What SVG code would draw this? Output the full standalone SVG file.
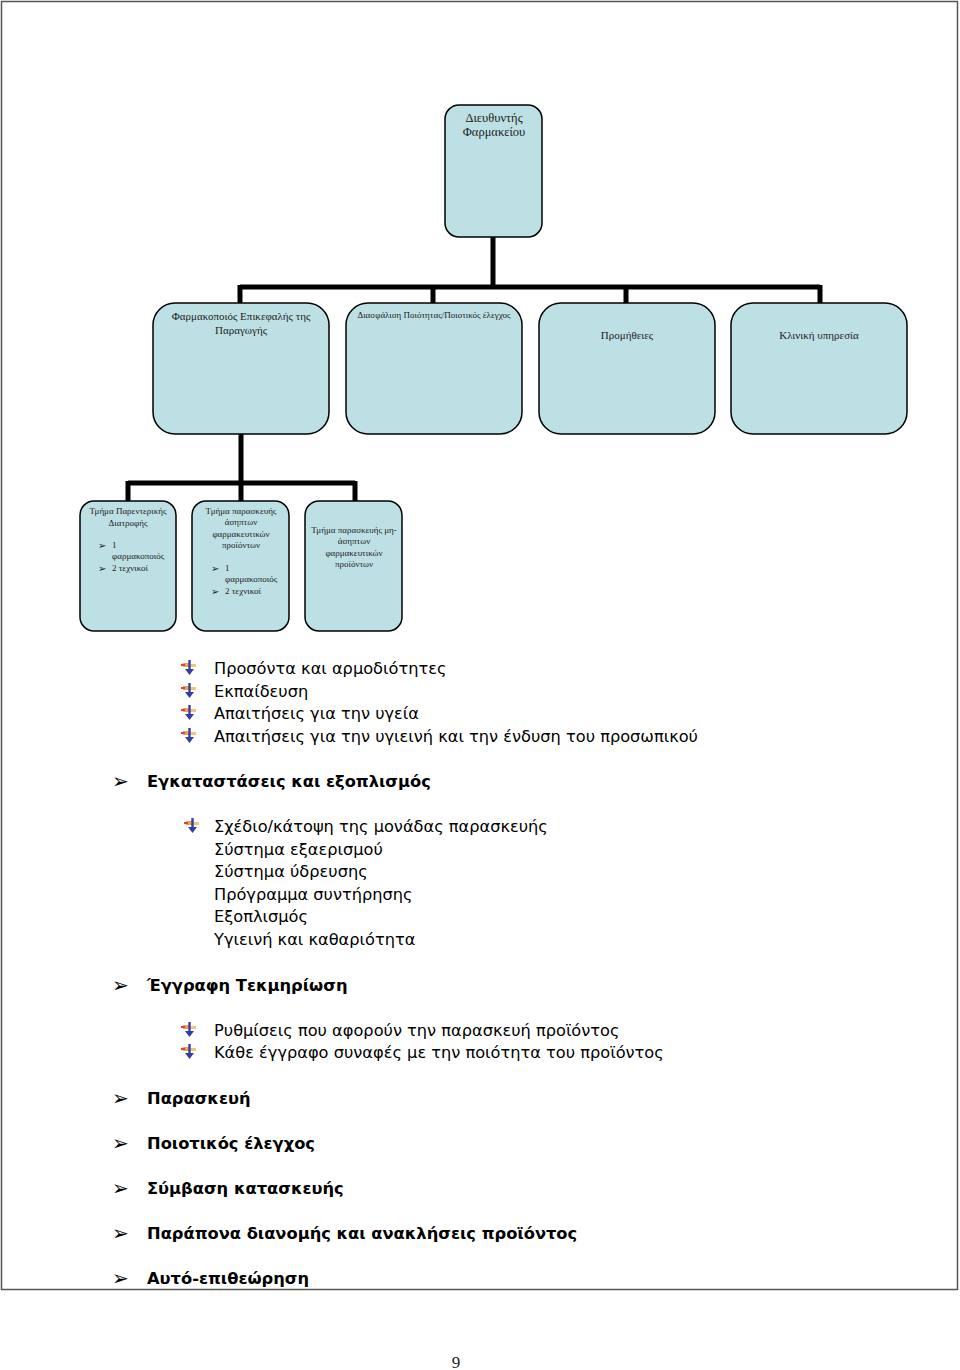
<svg xmlns="http://www.w3.org/2000/svg" width="960" height="1370" viewBox="0 0 960 1370">
<defs>
<style>
.box{fill:#bde0e4;stroke:#000;stroke-width:1.5}
.sf{font-family:"Liberation Serif","DejaVu Serif",serif;fill:#222}
.t12{font-size:12.5px}
.t10{font-size:11px}
.t9{font-size:9px}
.t8{font-size:9px}
.ls{font-family:"DejaVu Sans","Liberation Sans",sans-serif;font-size:16.2px;fill:#000}
.lb{font-family:"DejaVu Sans","Liberation Sans",sans-serif;font-size:16.3px;font-weight:bold;fill:#000}
.arr{font-family:"DejaVu Sans",sans-serif;font-size:20px;fill:#000}
.arrs{font-family:"DejaVu Sans",sans-serif;font-size:10px;fill:#222}
.conn{stroke:#000;stroke-width:5;fill:none}
</style>
<g id="bul">
<rect x="0" y="3" width="6" height="4" fill="#f0a050"/>
<rect x="-2" y="4" width="4" height="2" fill="#e04040"/>
<rect x="7" y="4" width="6" height="3" fill="#f8c080"/>
<rect x="5.3" y="0" width="2.4" height="12" fill="#3040a0"/>
<path d="M2 9 L6.5 15 L11 9 Z" fill="#3040a0"/>
</g>
</defs>
<rect x="0" y="0" width="960" height="1370" fill="#fff"/>
<rect x="1.5" y="1.5" width="956" height="1288" fill="none" stroke="#555" stroke-width="1.5"/>

<g id="connectors">
<path class="conn" d="M493 237 V287 M240 287 H820 M240 285 V303 M433 285 V303 M626 285 V303 M820 285 V303"/>
<path class="conn" d="M241 434 V483 M128 483 H355 M128 481 V501 M241 481 V501 M355 481 V501"/>
</g>

<g id="n-director">
<rect class="box" x="445" y="105" width="97" height="132" rx="14"/>
<text class="sf t12" x="494" y="122" text-anchor="middle">Διευθυντής</text>
<text class="sf t12" x="494" y="136" text-anchor="middle">Φαρμακείου</text>
</g>

<g id="n-head">
<rect class="box" x="153" y="303" width="176" height="131" rx="22"/>
<text class="sf t10" x="241" y="320" text-anchor="middle">Φαρμακοποιός Επικεφαλής της</text>
<text class="sf t10" x="241" y="334" text-anchor="middle">Παραγωγής</text>
</g>
<g id="n-qa">
<rect class="box" x="346" y="303" width="176" height="131" rx="22"/>
<text class="sf t8" x="434" y="318" text-anchor="middle">Διασφάλιση Ποιότητας/Ποιοτικός έλεγχος</text>
</g>
<g id="n-supply">
<rect class="box" x="539" y="303" width="176" height="131" rx="22"/>
<text class="sf t10" x="627" y="339" text-anchor="middle">Προμήθειες</text>
</g>
<g id="n-clinical">
<rect class="box" x="731" y="303" width="176" height="131" rx="22"/>
<text class="sf t10" x="819" y="339" text-anchor="middle">Κλινική υπηρεσία</text>
</g>

<g id="n-parenteral">
<rect class="box" x="80" y="501" width="96" height="130" rx="14"/>
<text class="sf t9" x="128" y="514" text-anchor="middle">Τμήμα Παρεντερικής</text>
<text class="sf t9" x="128" y="526" text-anchor="middle">Διατροφής</text>
<text class="arrs" x="98" y="549">➢</text>
<text class="sf t9" x="112" y="548">1</text>
<text class="sf t9" x="112" y="559">φαρμακοποιός</text>
<text class="arrs" x="98" y="572">➢</text>
<text class="sf t9" x="112" y="571">2 τεχνικοί</text>
</g>
<g id="n-aseptic">
<rect class="box" x="192" y="501" width="97" height="130" rx="14"/>
<text class="sf t9" x="241" y="514" text-anchor="middle">Τμήμα παρασκευής</text>
<text class="sf t9" x="241" y="525" text-anchor="middle">άσηπτων</text>
<text class="sf t9" x="241" y="537" text-anchor="middle">φαρμακευτικών</text>
<text class="sf t9" x="241" y="548" text-anchor="middle">προϊόντων</text>
<text class="arrs" x="211" y="572">➢</text>
<text class="sf t9" x="225" y="571">1</text>
<text class="sf t9" x="225" y="582">φαρμακοποιός</text>
<text class="arrs" x="211" y="595">➢</text>
<text class="sf t9" x="225" y="594">2 τεχνικοί</text>
</g>
<g id="n-nonaseptic">
<rect class="box" x="305" y="501" width="97" height="130" rx="14"/>
<text class="sf t9" x="354" y="533" text-anchor="middle">Τμήμα παρασκευής μη-</text>
<text class="sf t9" x="354" y="544" text-anchor="middle">άσηπτων</text>
<text class="sf t9" x="354" y="556" text-anchor="middle">φαρμακευτικών</text>
<text class="sf t9" x="354" y="567" text-anchor="middle">προϊόντων</text>
</g>

<g id="list">
<use href="#bul" x="183" y="660"/>
<text class="ls" x="214" y="674">Προσόντα και αρμοδιότητες</text>
<use href="#bul" x="183" y="683"/>
<text class="ls" x="214" y="697">Εκπαίδευση</text>
<use href="#bul" x="183" y="705"/>
<text class="ls" x="214" y="719">Απαιτήσεις για την υγεία</text>
<use href="#bul" x="183" y="728"/>
<text class="ls" x="214" y="742">Απαιτήσεις για την υγιεινή και την ένδυση του προσωπικού</text>

<text class="arr" x="112" y="788">➢</text>
<text class="lb" x="147" y="787">Εγκαταστάσεις και εξοπλισμός</text>
<use href="#bul" x="186" y="818"/>
<text class="ls" x="214" y="832">Σχέδιο/κάτοψη της μονάδας παρασκευής</text>
<text class="ls" x="214" y="855">Σύστημα εξαερισμού</text>
<text class="ls" x="214" y="877">Σύστημα ύδρευσης</text>
<text class="ls" x="214" y="900">Πρόγραμμα συντήρησης</text>
<text class="ls" x="214" y="922">Εξοπλισμός</text>
<text class="ls" x="214" y="945">Υγιεινή και καθαριότητα</text>

<text class="arr" x="112" y="992">➢</text>
<text class="lb" x="147" y="991">Έγγραφη Τεκμηρίωση</text>
<use href="#bul" x="183" y="1022"/>
<text class="ls" x="214" y="1036">Ρυθμίσεις που αφορούν την παρασκευή προϊόντος</text>
<use href="#bul" x="183" y="1044"/>
<text class="ls" x="214" y="1058">Κάθε έγγραφο συναφές με την ποιότητα του προϊόντος</text>

<text class="arr" x="112" y="1105">➢</text>
<text class="lb" x="147" y="1104">Παρασκευή</text>
<text class="arr" x="112" y="1150">➢</text>
<text class="lb" x="147" y="1149">Ποιοτικός έλεγχος</text>
<text class="arr" x="112" y="1195">➢</text>
<text class="lb" x="147" y="1194">Σύμβαση κατασκευής</text>
<text class="arr" x="112" y="1240">➢</text>
<text class="lb" x="147" y="1239">Παράπονα διανομής και ανακλήσεις προϊόντος</text>
<text class="arr" x="112" y="1285">➢</text>
<text class="lb" x="147" y="1284">Αυτό-επιθεώρηση</text>
</g>

<text class="sf" x="456" y="1368" font-size="17" text-anchor="middle">9</text>
</svg>
